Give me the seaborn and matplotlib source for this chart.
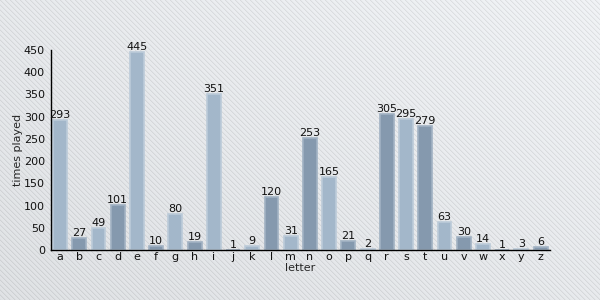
import numpy as np
import pandas as pd
import matplotlib
matplotlib.use("Agg")
import matplotlib.pyplot as plt
import seaborn as sns

letters = list("abcdefghijklmnopqrstuvwxyz")
times_played = [293, 27, 49, 101, 445, 10, 80, 19, 351, 1, 9, 120, 31,
                253, 165, 21, 2, 305, 295, 279, 63, 30, 14, 1, 3, 6]
shade = ["light" if i % 2 == 0 else "dark" for i in range(len(letters))]

df = pd.DataFrame({"letter": letters, "times played": times_played, "shade": shade})

sns.set_style("white")
plt.rcParams["font.family"] = ["DejaVu Sans"]
FS = 8

fig = plt.figure(figsize=(6, 3), dpi=100)

# background: diagonal stripes over a soft gradient
H, W = 300, 600
rows, cols = np.mgrid[0:H, 0:W]
grad = (cols / W - rows / H + 1) / 2.0  # 0 bottom-left .. 1 top-right
base = 0.89 + 0.065 * grad
k = (cols - rows) % 5
img = base - (k == 0) * 0.07 - (k == 1) * 0.025
bg = fig.add_axes([0, 0, 1, 1], zorder=-10)
bg.imshow(np.dstack([img - 0.012, img - 0.003, img + 0.008]).clip(0, 1),
          aspect="auto", interpolation="nearest")
bg.axis("off")

ax = fig.add_axes([51 / 600, 50 / 300, 499 / 600, 200 / 300])
ax.set_facecolor("none")
palette = {"light": "#a3b7ca", "dark": "#8599ae"}
sns.barplot(data=df, x="letter", y="times played", hue="shade", palette=palette,
            dodge=False, legend=False, width=0.72, ax=ax, saturation=1)
edges = {"light": "#bccbd9", "dark": "#a1b2c3"}
for p, s in zip(sorted(ax.patches, key=lambda r: r.get_x()), shade):
    p.set_edgecolor(edges[s])
    p.set_linewidth(1.2)

for c in ax.containers:
    ax.bar_label(c, padding=0, fontsize=FS, color="#111111")

ax.set_xlim(-0.47, 25.49)
ax.set_ylim(0, 450)
ax.set_yticks(range(0, 451, 50))
sns.despine(ax=ax)
for side in ["left", "bottom"]:
    ax.spines[side].set_color("#000000")
    ax.spines[side].set_linewidth(1.0)
ax.tick_params(axis="y", direction="out", length=3, width=1, pad=1.5, labelsize=FS, colors="#111111")
ax.tick_params(axis="x", direction="out", length=3, width=0.6, pad=-1.5, labelsize=FS, colors="#111111")
ax.set_xlabel("letter", fontsize=FS, labelpad=1)
ax.set_ylabel("times played", fontsize=FS, labelpad=0.5)

fig.savefig("out.png", dpi=100)
